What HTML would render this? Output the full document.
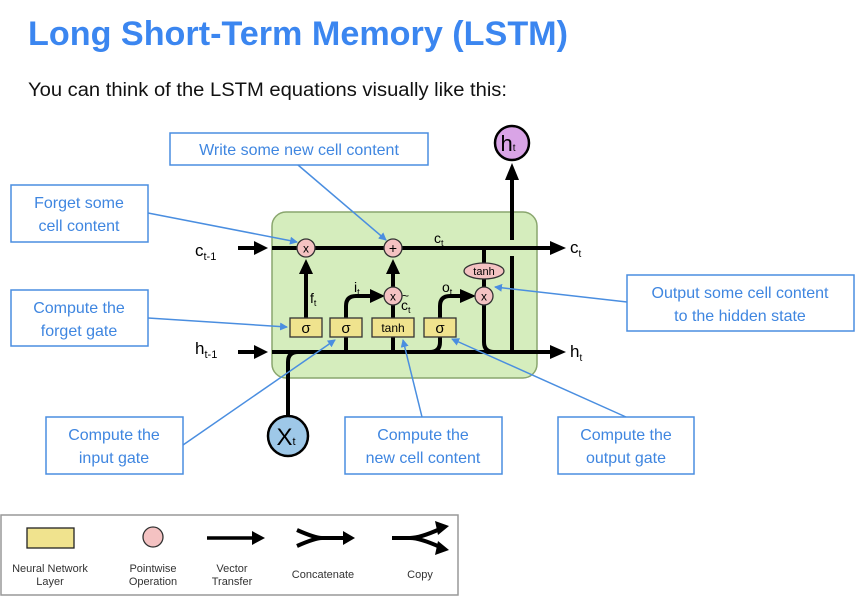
<!DOCTYPE html>
<html><head><meta charset="utf-8"><style>
html,body{margin:0;padding:0;background:#fff;width:859px;height:598px;overflow:hidden}
svg{display:block;font-family:"Liberation Sans",sans-serif}
.cb{fill:#fff;stroke:#4a8ee0;stroke-width:1.5}
.ct{fill:#3f86e0;font-size:16px;text-anchor:middle}
.bl{stroke:#4a8ee0;stroke-width:1.5;fill:none}
.k{stroke:#000;stroke-width:4;fill:none}
.lay{fill:#f0e38e;stroke:#333;stroke-width:1.3}
.op{fill:#f4c2c2;stroke:#333;stroke-width:1.3}
</style></head><body>
<svg width="859" height="598" viewBox="0 0 859 598">
<defs>
<marker id="ba" markerWidth="8" markerHeight="8" refX="7" refY="4" orient="auto" markerUnits="userSpaceOnUse"><path d="M0,0 L8,4 L0,8 z" fill="#4a8ee0"/></marker>
</defs>
<text x="28" y="45" font-size="34" font-weight="bold" fill="#3b86f0" textLength="540" lengthAdjust="spacingAndGlyphs">Long Short-Term Memory (LSTM)</text>
<text x="28" y="96" font-size="19" fill="#111" textLength="479" lengthAdjust="spacingAndGlyphs">You can think of the LSTM equations visually like this:</text>

<rect x="272" y="212" width="265" height="166" rx="14" fill="#d5edbd" stroke="#8aa66e" stroke-width="1.5"/>

<line x1="238" y1="248" x2="256" y2="248" class="k"/><path d="M254,241 L268,248 L254,255z"/>
<line x1="272" y1="248" x2="552" y2="248" class="k"/><path d="M550,241 L566,248 L550,255z"/>
<line x1="238" y1="352" x2="256" y2="352" class="k"/><path d="M254,345 L268,352 L254,359z"/>
<line x1="272" y1="352" x2="552" y2="352" class="k"/><path d="M550,345 L566,352 L550,359z"/>
<path d="M288,416 L288,362 Q288,352 298,352" class="k"/>
<line x1="306" y1="318" x2="306" y2="272" class="k"/><path d="M299,274 L306,259 L313,274z"/>
<path d="M346,352 L346,306 Q346,296 356,296 L372,296" class="k"/><path d="M370,289 L385,296 L370,303z"/>
<line x1="393" y1="352" x2="393" y2="304" class="k"/>
<line x1="393" y1="288" x2="393" y2="272" class="k"/><path d="M386,274 L393,259 L400,274z"/>
<path d="M430,352 Q440,352 440,342 L440,306 Q440,296 450,296 L462,296" class="k"/><path d="M460,289 L476,296 L460,303z"/>
<line x1="484" y1="248" x2="484" y2="264" class="k"/>
<line x1="484" y1="278" x2="484" y2="288" class="k"/>
<path d="M484,304 L484,342 Q484,352 494,352" class="k"/>
<line x1="512" y1="352" x2="512" y2="256" class="k"/>
<line x1="512" y1="240" x2="512" y2="178" class="k"/><path d="M505,180 L512,163 L519,180z"/>

<rect x="290" y="318" width="32" height="19" class="lay"/><text x="306" y="333" font-size="15" text-anchor="middle">σ</text>
<rect x="330" y="318" width="32" height="19" class="lay"/><text x="346" y="333" font-size="15" text-anchor="middle">σ</text>
<rect x="372" y="318" width="42" height="19" class="lay"/><text x="393" y="332" font-size="12" text-anchor="middle">tanh</text>
<rect x="424" y="318" width="32" height="19" class="lay"/><text x="440" y="333" font-size="15" text-anchor="middle">σ</text>
<circle cx="306" cy="248" r="9" class="op"/><text x="306" y="252.5" font-size="12" text-anchor="middle">x</text>
<circle cx="393" cy="248" r="9" class="op"/><text x="393" y="253" font-size="14" text-anchor="middle">+</text>
<circle cx="393" cy="296" r="9" class="op"/><text x="393" y="300.5" font-size="12" text-anchor="middle">x</text>
<circle cx="484" cy="296" r="9" class="op"/><text x="484" y="300.5" font-size="12" text-anchor="middle">x</text>
<ellipse cx="484" cy="271" rx="20" ry="8" class="op"/><text x="484" y="275" font-size="11" text-anchor="middle">tanh</text>

<text x="195" y="256" font-size="17">c<tspan font-size="11" dy="4">t-1</tspan></text>
<text x="195" y="354" font-size="17">h<tspan font-size="11" dy="4">t-1</tspan></text>
<text x="570" y="253" font-size="17">c<tspan font-size="10" dy="4">t</tspan></text>
<text x="570" y="357" font-size="17">h<tspan font-size="10" dy="4">t</tspan></text>
<text x="434" y="243" font-size="14">c<tspan font-size="9" dy="3">t</tspan></text>
<text x="310" y="303" font-size="14">f<tspan font-size="9" dy="3">t</tspan></text>
<text x="354" y="292" font-size="14">i<tspan font-size="9" dy="3">t</tspan></text>
<text x="402" y="300" font-size="12">~</text>
<text x="401" y="310" font-size="14">c<tspan font-size="9" dy="3">t</tspan></text>
<text x="442" y="292" font-size="14">o<tspan font-size="9" dy="3">t</tspan></text>

<circle cx="512" cy="143" r="17" fill="#d9a4e6" stroke="#000" stroke-width="2.5"/>
<text x="508" y="151" font-size="22" text-anchor="middle">h<tspan font-size="10">t</tspan></text>
<circle cx="288" cy="436" r="20" fill="#9ec8e8" stroke="#000" stroke-width="2.5"/>
<text x="286" y="445" font-size="24" text-anchor="middle">X<tspan font-size="11">t</tspan></text>

<rect x="170" y="133" width="258" height="32" class="cb"/><text x="299" y="155" class="ct">Write some new cell content</text>
<rect x="11" y="185" width="137" height="57" class="cb"/><text x="79" y="208" class="ct">Forget some</text><text x="79" y="231" class="ct">cell content</text>
<rect x="11" y="290" width="137" height="56" class="cb"/><text x="79" y="313" class="ct">Compute the</text><text x="79" y="336" class="ct">forget gate</text>
<rect x="627" y="275" width="227" height="56" class="cb"/><text x="740" y="298" class="ct">Output some cell content</text><text x="740" y="321" class="ct">to the hidden state</text>
<rect x="46" y="417" width="137" height="57" class="cb"/><text x="114" y="440" class="ct">Compute the</text><text x="114" y="463" class="ct">input gate</text>
<rect x="345" y="417" width="157" height="57" class="cb"/><text x="423" y="440" class="ct">Compute the</text><text x="423" y="463" class="ct">new cell content</text>
<rect x="558" y="417" width="136" height="57" class="cb"/><text x="626" y="440" class="ct">Compute the</text><text x="626" y="463" class="ct">output gate</text>

<line x1="298" y1="165" x2="386" y2="240" class="bl" marker-end="url(#ba)"/>
<line x1="148" y1="213" x2="297" y2="242" class="bl" marker-end="url(#ba)"/>
<line x1="148" y1="318" x2="287" y2="327" class="bl" marker-end="url(#ba)"/>
<line x1="627" y1="302" x2="495" y2="287" class="bl" marker-end="url(#ba)"/>
<line x1="183" y1="445" x2="335" y2="340" class="bl" marker-end="url(#ba)"/>
<line x1="422" y1="417" x2="403" y2="340" class="bl" marker-end="url(#ba)"/>
<line x1="626" y1="417" x2="452" y2="339" class="bl" marker-end="url(#ba)"/>

<rect x="1" y="515" width="457" height="80" fill="#fff" stroke="#999" stroke-width="1.5"/>
<rect x="27" y="528" width="47" height="20" fill="#f0e38e" stroke="#222" stroke-width="1.3"/>
<text x="50" y="572" font-size="11" text-anchor="middle" fill="#333">Neural Network</text>
<text x="50" y="585" font-size="11" text-anchor="middle" fill="#333">Layer</text>
<circle cx="153" cy="537" r="10" class="op"/>
<text x="153" y="572" font-size="11" text-anchor="middle" fill="#333">Pointwise</text>
<text x="153" y="585" font-size="11" text-anchor="middle" fill="#333">Operation</text>
<line x1="207" y1="538" x2="255" y2="538" stroke="#000" stroke-width="3.5"/><path d="M252,531 L265,538 L252,545z"/>
<text x="232" y="572" font-size="11" text-anchor="middle" fill="#333">Vector</text>
<text x="232" y="585" font-size="11" text-anchor="middle" fill="#333">Transfer</text>
<path d="M297,530 Q315,538 322,538 L345,538 M297,546 Q315,538 322,538" class="k" stroke-width="3.5"/><path d="M343,531 L355,538 L343,545z"/>
<text x="323" y="578" font-size="11" text-anchor="middle" fill="#333">Concatenate</text>
<path d="M392,538 L410,538 Q420,538 440,529 M410,538 Q420,538 440,547" class="k" stroke-width="3.5"/>
<path d="M435,521 L449,526 L438,535z"/><path d="M438,541 L449,550 L435,555z"/>
<text x="420" y="578" font-size="11" text-anchor="middle" fill="#333">Copy</text>
</svg>
</body></html>
